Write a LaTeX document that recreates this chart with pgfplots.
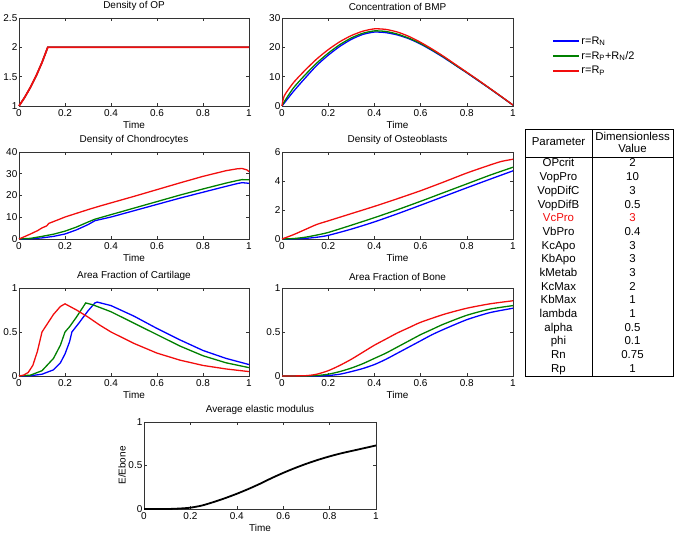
\documentclass[border=0pt]{standalone}
\usepackage{fontspec}
\setmainfont{Liberation Sans}
\usepackage{pgfplots}
\pgfplotsset{compat=1.18}
\definecolor{mblue}{rgb}{0,0,1}
\definecolor{mgreen}{rgb}{0,0.5,0}
\definecolor{mred}{rgb}{0.95,0.05,0.05}
\definecolor{axgray}{gray}{0.2}
\newcommand{\fs}{\fontsize{10}{11}\selectfont}
\pgfplotsset{
  panel/.style={
    scale only axis, anchor=south west,
    xmin=0, xmax=1,
    xtick={0,0.2,0.4,0.6,0.8,1},
    xticklabels={0,0.2,0.4,0.6,0.8,1},
    axis line style={axgray, line width=0.5pt},
    tick style={axgray, line width=0.5pt},
    major tick length=3bp,
    tick align=inside,
    tick label style={font=\fs, inner sep=1pt},
    xticklabel style={yshift=-2bp},
    yticklabel style={inner sep=1.5pt},
    /pgf/number format/assume math mode=true,
    title style={font=\fs, inner sep=1.5pt},
    xlabel=Time,
    label style={font=\fs},
    xlabel style={inner sep=1pt, yshift=-2.5bp},
    clip=false,
    every axis plot/.append style={line width=1.3pt},
  },
}
\begin{document}
\begin{tikzpicture}[x=1bp,y=1bp]
\path[use as bounding box] (0,0) rectangle (676,534);

% 1 Density of OP
\begin{axis}[panel, at={(19bp,428bp)}, width=230bp, height=88bp,
  title={Density of OP}, ymin=1, ymax=2.5, ytick={1,1.5,2,2.5}, yticklabels={1,1.5,2,2.5}]
\addplot[mblue] coordinates {(0,1) (0.025,1.149) (0.05,1.32) (0.075,1.516) (0.1,1.741) (0.125,2) (1,2)};
\addplot[mgreen] coordinates {(0,1) (0.025,1.149) (0.05,1.32) (0.075,1.516) (0.1,1.741) (0.125,2) (1,2)};
\addplot[mred, line width=1.8pt] coordinates {(0,1) (0.025,1.149) (0.05,1.32) (0.075,1.516) (0.1,1.741) (0.125,2) (1,2)};
\end{axis}

% 2 Concentration of BMP
\begin{axis}[panel, at={(282bp,428bp)}, width=231bp, height=88bp,
  title={Concentration of BMP}, ymin=0, ymax=30, ytick={0,10,20,30}, yticklabels={0,10,20,30},
  legend style={draw=none, fill=none, at={(1.17,0.80)}, anchor=north west, font=\fontsize{11}{12}\selectfont, row sep=3.5bp, inner sep=0pt, nodes={inner sep=1pt}},
  legend cell align=left,
  legend image code/.code={\draw[#1, line width=2pt] (0bp,0bp) -- (26bp,0bp);}]
\addplot[mblue, smooth, tension=0.4] coordinates {(0,0) (0.05,5) (0.1,9.5) (0.15,13.8) (0.2,17.3) (0.25,20.3) (0.3,22.7) (0.35,24.4) (0.4,25.2) (0.45,25.0) (0.5,24.2) (0.55,22.9) (0.6,21.1) (0.65,18.9) (0.7,16.5) (0.75,13.9) (0.8,11.3) (0.85,8.6) (0.9,5.9) (0.95,3.1) (1,0.3)};
\addlegendentry{r=R\textsubscript{N}}
\addplot[mgreen, smooth, tension=0.4] coordinates {(0,0) (0.01,1.5) (0.05,6.2) (0.1,10.6) (0.15,14.6) (0.2,18.0) (0.25,20.9) (0.3,23.2) (0.35,24.8) (0.4,25.6) (0.45,25.4) (0.5,24.5) (0.55,23.1) (0.6,21.3) (0.65,19.1) (0.7,16.7) (0.75,14.0) (0.8,11.4) (0.85,8.7) (0.9,5.95) (0.95,3.15) (1,0.3)};
\addlegendentry{r=R\textsubscript{P}+R\textsubscript{N}/2}
\addplot[mred, smooth, tension=0.4] coordinates {(0,0) (0.01,3.5) (0.05,8.0) (0.1,12.2) (0.15,16.0) (0.2,19.2) (0.25,21.9) (0.3,24.0) (0.35,25.5) (0.4,26.3) (0.45,26.1) (0.5,25.2) (0.55,23.7) (0.6,21.7) (0.65,19.4) (0.7,16.9) (0.75,14.2) (0.8,11.5) (0.85,8.8) (0.9,6.0) (0.95,3.2) (1,0.3)};
\addlegendentry{r=R\textsubscript{P}}
\end{axis}

% 3 Density of Chondrocytes
\begin{axis}[panel, at={(19bp,295bp)}, width=230bp, height=87bp,
  title={Density of Chondrocytes}, ymin=0, ymax=40, ytick={0,10,20,30,40}, yticklabels={0,10,20,30,40}]
\addplot[mblue] coordinates {(0,0) (0.05,0.1) (0.1,0.5) (0.15,1.2) (0.2,2.3) (0.25,4.2) (0.3,6.6) (0.33,8.4) (0.35,8.9) (0.4,10.1) (0.5,13.0) (0.6,15.9) (0.7,18.8) (0.8,21.5) (0.9,24.2) (0.95,25.5) (0.97,25.9) (1,25.6)};
\addplot[mgreen] coordinates {(0,0) (0.05,0.3) (0.1,1.2) (0.15,2.2) (0.2,3.6) (0.25,5.5) (0.3,7.8) (0.33,9.1) (0.35,9.7) (0.4,11.2) (0.5,14.2) (0.6,17.2) (0.7,20.2) (0.8,23.0) (0.9,25.7) (0.95,26.9) (0.97,27.3) (1,27.2)};
\addplot[mred] coordinates {(0,0) (0.02,0.9) (0.05,2.3) (0.08,3.8) (0.1,5.1) (0.12,6.0) (0.13,7.2) (0.15,8.0) (0.2,10.1) (0.25,11.8) (0.3,13.5) (0.35,15.1) (0.4,16.6) (0.5,19.6) (0.6,22.7) (0.7,25.8) (0.8,28.8) (0.9,31.4) (0.95,32.3) (0.97,32.4) (0.99,31.8) (1,31.0)};
\end{axis}

% 4 Density of Osteoblasts
\begin{axis}[panel, at={(282bp,295bp)}, width=231bp, height=87bp,
  title={Density of Osteoblasts}, ymin=0, ymax=6, ytick={0,2,4,6}, yticklabels={0,2,4,6}]
\addplot[mblue, smooth, tension=0.4] coordinates {(0,0) (0.05,0.01) (0.1,0.04) (0.15,0.12) (0.2,0.25) (0.3,0.68) (0.4,1.18) (0.5,1.74) (0.6,2.33) (0.7,2.93) (0.8,3.53) (0.9,4.12) (1,4.7)};
\addplot[mgreen, smooth, tension=0.4] coordinates {(0,0) (0.05,0.03) (0.1,0.12) (0.15,0.27) (0.2,0.45) (0.3,0.95) (0.4,1.47) (0.5,2.02) (0.6,2.6) (0.7,3.2) (0.8,3.8) (0.9,4.4) (1,4.95)};
\addplot[mred, smooth, tension=0.4] coordinates {(0,0) (0.05,0.3) (0.1,0.65) (0.15,1.0) (0.2,1.25) (0.3,1.75) (0.4,2.25) (0.5,2.78) (0.6,3.33) (0.7,3.93) (0.8,4.55) (0.9,5.1) (0.95,5.35) (1,5.5)};
\end{axis}

% 5 Area Fraction of Cartilage
\begin{axis}[panel, at={(19bp,158bp)}, width=230bp, height=88bp,
  title={Area Fraction of Cartilage}, ymin=0, ymax=1, ytick={0,0.5,1}, yticklabels={0,0.5,1}]
\addplot[mblue] coordinates {(0,0) (0.05,0.003) (0.1,0.02) (0.15,0.07) (0.18,0.15) (0.2,0.25) (0.22,0.39) (0.23,0.5) (0.26,0.6) (0.3,0.74) (0.33,0.83) (0.34,0.84) (0.37,0.82) (0.4,0.8) (0.5,0.68) (0.6,0.54) (0.7,0.41) (0.8,0.29) (0.9,0.2) (1,0.13)};
\addplot[mgreen] coordinates {(0,0) (0.05,0.01) (0.1,0.06) (0.15,0.2) (0.18,0.35) (0.2,0.5) (0.22,0.56) (0.25,0.67) (0.28,0.79) (0.29,0.83) (0.32,0.81) (0.35,0.78) (0.4,0.73) (0.5,0.6) (0.6,0.47) (0.7,0.34) (0.8,0.23) (0.9,0.15) (1,0.095)};
\addplot[mred] coordinates {(0,0) (0.02,0.01) (0.04,0.04) (0.06,0.12) (0.08,0.28) (0.1,0.5) (0.12,0.58) (0.15,0.7) (0.18,0.79) (0.2,0.82) (0.25,0.75) (0.3,0.67) (0.35,0.58) (0.4,0.5) (0.5,0.37) (0.6,0.26) (0.7,0.18) (0.8,0.12) (0.9,0.08) (1,0.05)};
\end{axis}

% 6 Area Fraction of Bone
\begin{axis}[panel, at={(282bp,158bp)}, width=231bp, height=88bp,
  title={Area Fraction of Bone}, ymin=0, ymax=1, ytick={0,0.5,1}, yticklabels={0,0.5,1}]
\addplot[mblue, smooth, tension=0.4] coordinates {(0,0) (0.15,0) (0.2,0.005) (0.25,0.02) (0.3,0.05) (0.35,0.085) (0.4,0.13) (0.45,0.19) (0.5,0.26) (0.55,0.33) (0.6,0.4) (0.65,0.47) (0.7,0.53) (0.8,0.64) (0.9,0.72) (1,0.77)};
\addplot[mgreen, smooth, tension=0.4] coordinates {(0,0) (0.1,0) (0.15,0.005) (0.2,0.02) (0.25,0.05) (0.3,0.09) (0.35,0.14) (0.4,0.2) (0.45,0.26) (0.5,0.33) (0.55,0.4) (0.6,0.47) (0.65,0.53) (0.7,0.59) (0.8,0.69) (0.9,0.76) (1,0.8)};
\addplot[mred, smooth, tension=0.4] coordinates {(0,0) (0.1,0.003) (0.15,0.02) (0.2,0.06) (0.25,0.12) (0.3,0.19) (0.35,0.27) (0.4,0.35) (0.45,0.42) (0.5,0.49) (0.55,0.55) (0.6,0.61) (0.7,0.7) (0.8,0.77) (0.9,0.82) (1,0.855)};
\end{axis}

% 7 Average elastic modulus
\begin{axis}[panel, at={(144bp,25bp)}, width=232bp, height=87bp,
  title={Average elastic modulus}, ylabel={E/Ebone}, ylabel style={inner sep=1pt},
  ymin=0, ymax=1, ytick={0,0.5,1}, yticklabels={0,0.5,1}]
\addplot[black, line width=1.8pt, smooth, tension=0.4] coordinates {(0,0) (0.1,0) (0.15,0.005) (0.2,0.015) (0.25,0.04) (0.3,0.08) (0.35,0.125) (0.4,0.175) (0.45,0.23) (0.5,0.29) (0.55,0.355) (0.6,0.415) (0.65,0.47) (0.7,0.52) (0.75,0.565) (0.8,0.605) (0.85,0.64) (0.9,0.67) (0.95,0.70) (1,0.73)};
\end{axis}

% parameter table
\draw[black, line width=0.8pt] (525,158) rectangle (673,405);
\draw[black, line width=0.8pt] (525,377) -- (673,377);
\draw[black, line width=0.8pt] (592,158) -- (592,405);
\begin{scope}[every node/.style={font=\fontsize{11.5}{12}\selectfont, inner sep=0pt, anchor=base}]
\node at (558.5,388) {Parameter};
\node at (632.5,393.5) {Dimensionless};
\node at (632.5,381.5) {Value};
\foreach \n/\v [count=\i from 0] in {OPcrit/2, VopPro/10, VopDifC/3, VopDifB/0.5, VcPro/3, VbPro/0.4, KcApo/3, KbApo/3, kMetab/3, KcMax/2, KbMax/1, lambda/1, alpha/0.5, phi/0.1, Rn/0.75, Rp/1}{
  \ifnum\i=4
    \node[text=mred] at (558.5,{367-13.67*\i}) {\n};
    \node[text=mred] at (632.5,{367-13.67*\i}) {\v};
  \else
    \node at (558.5,{367-13.67*\i}) {\n};
    \node at (632.5,{367-13.67*\i}) {\v};
  \fi
}
\end{scope}
\end{tikzpicture}
\end{document}
